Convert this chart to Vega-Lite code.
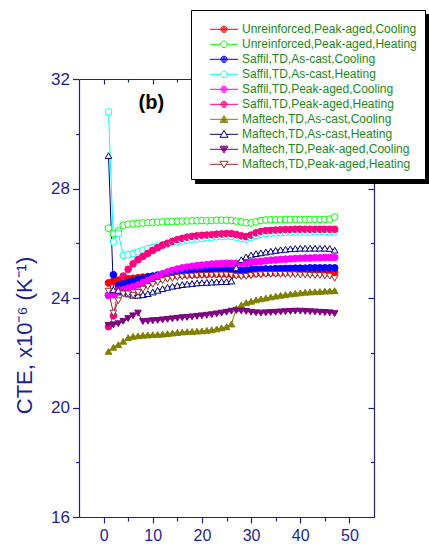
{
  "$schema": "https://vega.github.io/schema/vega-lite/v6.json",
  "width": 295,
  "height": 438,
  "autosize": {"type": "none"},
  "padding": {"left": 79, "top": 79, "right": 55, "bottom": 27},
  "background": "white",
  "config": {
    "view": {"stroke": null},
    "axis": {"grid": false, "domainColor": "#1f1f8f", "tickColor": "#1f1f8f", "labelColor": "#1f1f8f", "titleColor": "#1f1f8f", "labelFont": "Arial", "titleFont": "Arial", "titleFontWeight": "normal", "domainWidth": 1.2, "tickWidth": 1.2}
  },
  "data": {"values": [
    {"x":1,"a":24.55,"b":26.55,"c":24.10,"d":30.80,"e":24.10,"f":22.95,"g":22.05,"h":29.20,"i":23.00,"j":24.25},
    {"x":2,"a":24.62,"b":26.35,"c":24.85,"d":26.05,"e":24.12,"f":23.35,"g":22.20,"h":24.30,"i":23.02,"j":23.45},
    {"x":3,"a":24.65,"b":26.45,"c":24.45,"d":26.35,"e":24.22,"f":24.30,"g":22.30,"h":24.28,"i":23.06,"j":23.90},
    {"x":4,"a":24.67,"b":26.66,"c":24.52,"d":25.55,"e":24.30,"f":24.80,"g":22.42,"h":24.22,"i":23.15,"j":24.15},
    {"x":5,"a":24.70,"b":26.69,"c":24.57,"d":25.58,"e":24.36,"f":25.05,"g":22.55,"h":24.15,"i":23.25,"j":24.15},
    {"x":6,"a":24.72,"b":26.71,"c":24.62,"d":25.62,"e":24.42,"f":25.25,"g":22.60,"h":24.10,"i":23.35,"j":24.10},
    {"x":7,"a":24.74,"b":26.73,"c":24.67,"d":25.68,"e":24.48,"f":25.40,"g":22.62,"h":24.10,"i":23.45,"j":24.20},
    {"x":8,"a":24.76,"b":26.74,"c":24.72,"d":25.74,"e":24.56,"f":25.52,"g":22.64,"h":24.12,"i":23.14,"j":24.32},
    {"x":9,"a":24.78,"b":26.75,"c":24.76,"d":25.80,"e":24.64,"f":25.63,"g":22.65,"h":24.16,"i":23.15,"j":24.42},
    {"x":10,"a":24.79,"b":26.76,"c":24.80,"d":25.85,"e":24.72,"f":25.74,"g":22.66,"h":24.22,"i":23.17,"j":24.50},
    {"x":11,"a":24.80,"b":26.77,"c":24.84,"d":25.90,"e":24.80,"f":25.84,"g":22.67,"h":24.28,"i":23.18,"j":24.57},
    {"x":12,"a":24.81,"b":26.78,"c":24.87,"d":25.94,"e":24.88,"f":25.93,"g":22.68,"h":24.34,"i":23.20,"j":24.63},
    {"x":13,"a":24.82,"b":26.79,"c":24.90,"d":25.98,"e":24.95,"f":26.00,"g":22.70,"h":24.39,"i":23.22,"j":24.68},
    {"x":14,"a":24.83,"b":26.79,"c":24.93,"d":26.02,"e":25.01,"f":26.07,"g":22.72,"h":24.43,"i":23.24,"j":24.72},
    {"x":15,"a":24.84,"b":26.80,"c":24.96,"d":26.05,"e":25.06,"f":26.13,"g":22.74,"h":24.46,"i":23.26,"j":24.75},
    {"x":16,"a":24.85,"b":26.81,"c":24.98,"d":26.08,"e":25.10,"f":26.18,"g":22.76,"h":24.49,"i":23.28,"j":24.77},
    {"x":17,"a":24.85,"b":26.81,"c":25.00,"d":26.11,"e":25.13,"f":26.22,"g":22.77,"h":24.51,"i":23.29,"j":24.79},
    {"x":18,"a":24.86,"b":26.82,"c":25.01,"d":26.14,"e":25.16,"f":26.25,"g":22.78,"h":24.53,"i":23.31,"j":24.80},
    {"x":19,"a":24.86,"b":26.82,"c":25.02,"d":26.16,"e":25.18,"f":26.27,"g":22.79,"h":24.55,"i":23.33,"j":24.81},
    {"x":20,"a":24.87,"b":26.83,"c":25.02,"d":26.18,"e":25.20,"f":26.29,"g":22.80,"h":24.56,"i":23.35,"j":24.82},
    {"x":21,"a":24.87,"b":26.82,"c":25.03,"d":26.20,"e":25.22,"f":26.30,"g":22.82,"h":24.57,"i":23.37,"j":24.83},
    {"x":22,"a":24.88,"b":26.83,"c":25.03,"d":26.22,"e":25.24,"f":26.31,"g":22.84,"h":24.58,"i":23.39,"j":24.83},
    {"x":23,"a":24.88,"b":26.84,"c":25.04,"d":26.24,"e":25.25,"f":26.33,"g":22.87,"h":24.59,"i":23.42,"j":24.84},
    {"x":24,"a":24.88,"b":26.84,"c":25.04,"d":26.25,"e":25.26,"f":26.34,"g":22.91,"h":24.60,"i":23.45,"j":24.84},
    {"x":25,"a":24.88,"b":26.84,"c":25.04,"d":26.26,"e":25.27,"f":26.35,"g":22.95,"h":24.60,"i":23.48,"j":24.84},
    {"x":26,"a":24.87,"b":26.83,"c":25.03,"d":26.25,"e":25.27,"f":26.35,"g":23.05,"h":24.62,"i":23.52,"j":24.83},
    {"x":27,"a":24.86,"b":26.81,"c":25.02,"d":26.22,"e":25.27,"f":26.32,"g":23.62,"h":25.10,"i":23.54,"j":24.80},
    {"x":28,"a":24.86,"b":26.78,"c":25.02,"d":26.17,"e":25.27,"f":26.27,"g":23.75,"h":25.40,"i":23.53,"j":24.78},
    {"x":29,"a":24.87,"b":26.75,"c":25.03,"d":26.15,"e":25.28,"f":26.24,"g":23.83,"h":25.50,"i":23.51,"j":24.79},
    {"x":30,"a":24.89,"b":26.74,"c":25.04,"d":26.20,"e":25.30,"f":26.30,"g":23.88,"h":25.57,"i":23.48,"j":24.82},
    {"x":31,"a":24.90,"b":26.78,"c":25.05,"d":26.28,"e":25.32,"f":26.38,"g":23.93,"h":25.62,"i":23.46,"j":24.84},
    {"x":32,"a":24.91,"b":26.83,"c":25.05,"d":26.33,"e":25.34,"f":26.43,"g":23.97,"h":25.65,"i":23.45,"j":24.85},
    {"x":33,"a":24.92,"b":26.85,"c":25.06,"d":26.36,"e":25.36,"f":26.46,"g":24.00,"h":25.68,"i":23.46,"j":24.86},
    {"x":34,"a":24.92,"b":26.86,"c":25.06,"d":26.37,"e":25.38,"f":26.47,"g":24.04,"h":25.71,"i":23.47,"j":24.86},
    {"x":35,"a":24.93,"b":26.86,"c":25.07,"d":26.38,"e":25.39,"f":26.48,"g":24.07,"h":25.74,"i":23.48,"j":24.86},
    {"x":36,"a":24.93,"b":26.86,"c":25.07,"d":26.39,"e":25.41,"f":26.49,"g":24.10,"h":25.76,"i":23.49,"j":24.86},
    {"x":37,"a":24.94,"b":26.87,"c":25.08,"d":26.40,"e":25.42,"f":26.50,"g":24.12,"h":25.78,"i":23.50,"j":24.86},
    {"x":38,"a":24.94,"b":26.87,"c":25.08,"d":26.40,"e":25.43,"f":26.50,"g":24.15,"h":25.80,"i":23.51,"j":24.85},
    {"x":39,"a":24.95,"b":26.87,"c":25.09,"d":26.41,"e":25.44,"f":26.51,"g":24.17,"h":25.81,"i":23.52,"j":24.85},
    {"x":40,"a":24.95,"b":26.87,"c":25.09,"d":26.41,"e":25.45,"f":26.51,"g":24.19,"h":25.82,"i":23.52,"j":24.84},
    {"x":41,"a":24.95,"b":26.87,"c":25.09,"d":26.41,"e":25.46,"f":26.51,"g":24.21,"h":25.82,"i":23.51,"j":24.84},
    {"x":42,"a":24.96,"b":26.87,"c":25.10,"d":26.41,"e":25.46,"f":26.51,"g":24.22,"h":25.82,"i":23.50,"j":24.83},
    {"x":43,"a":24.96,"b":26.87,"c":25.10,"d":26.42,"e":25.47,"f":26.51,"g":24.23,"h":25.82,"i":23.49,"j":24.82},
    {"x":44,"a":24.96,"b":26.87,"c":25.10,"d":26.42,"e":25.47,"f":26.51,"g":24.24,"h":25.82,"i":23.48,"j":24.82},
    {"x":45,"a":24.96,"b":26.87,"c":25.10,"d":26.42,"e":25.48,"f":26.51,"g":24.25,"h":25.82,"i":23.47,"j":24.81},
    {"x":46,"a":24.96,"b":26.88,"c":25.10,"d":26.42,"e":25.48,"f":26.51,"g":24.26,"h":25.81,"i":23.46,"j":24.80},
    {"x":47,"a":24.95,"b":26.96,"c":25.10,"d":26.42,"e":25.48,"f":26.51,"g":24.27,"h":25.75,"i":23.43,"j":24.72}
  ]},
  "transform": [{"fold": ["a","b","c","d","e","f","g","h","i","j"], "as": ["s","y"]}],
  "layer": [
    {
      "mark": {"type": "line", "strokeWidth": 1},
      "encoding": {
        "x": {"field": "x", "type": "quantitative", "scale": {"domain": [-5, 55], "nice": false, "zero": false},
              "axis": {"orient": "bottom", "values": [0,10,20,30,40,50], "tickSize": 6, "labelFontSize": 16, "labelPadding": 4, "title": null}},
        "y": {"field": "y", "type": "quantitative", "scale": {"domain": [16, 32], "nice": false, "zero": false},
              "axis": {"orient": "left", "values": [16,20,24,28,32], "tickSize": 6.5, "labelFontSize": 17, "labelPadding": 3, "title": "CTE, x10⁻⁶ (K⁻¹)", "titleFontSize": 22, "titleAngle": -90, "titleX": -55, "titleY": 256, "titleBaseline": "middle", "titleAlign": "center"}},
        "stroke": {"field": "s", "type": "nominal", "legend": null,
                   "scale": {"domain": ["a","b","c","d","e","f","g","h","i","j"], "range": ["#ff0000","#00ff00","#0000ff","#00ffff","#ff00ff","#ff0080","#808000","#000080","#800080","#9b2d2d"]}}
      }
    },
    {
      "mark": {"type": "point", "filled": true, "size": 45, "strokeWidth": 1, "opacity": 1},
      "encoding": {
        "x": {"field": "x", "type": "quantitative", "axis": {"orient": "top", "values": [0,10,20,30,40,50], "tickSize": -5, "labels": false, "title": null}},
        "y": {"field": "y", "type": "quantitative", "axis": {"orient": "right", "values": [16,20,24,28,32], "tickSize": -6, "labels": false, "title": null}},
        "stroke": {"field": "s", "type": "nominal", "legend": null,
                   "scale": {"domain": ["a","b","c","d","e","f","g","h","i","j"], "range": ["#ff0000","#00ff00","#0000ff","#00ffff","#ff00ff","#ff0080","#808000","#000080","#800080","#9b2d2d"]}},
        "fill": {"field": "s", "type": "nominal", "legend": null,
                 "scale": {"domain": ["a","b","c","d","e","f","g","h","i","j"], "range": ["#ff0000","#ffffff","#0000ff","#ffffff","#ff00ff","#ff0080","#808000","#ffffff","#800080","#ffffff"]}},
        "shape": {"field": "s", "type": "nominal", "legend": null,
                  "scale": {"domain": ["a","b","c","d","e","f","g","h","i","j"], "range": ["circle","circle","circle","circle","circle","circle","triangle-up","triangle-up","triangle-down","triangle-down"]}}
      }
    },
    {
      "mark": {"type": "point", "filled": true, "size": 45, "strokeWidth": 1, "opacity": 0},
      "encoding": {
        "x": {"field": "x", "type": "quantitative", "axis": {"orient": "bottom", "values": [5,15,25,35,45], "tickSize": 4, "labels": false, "domain": false, "title": null}},
        "y": {"field": "y", "type": "quantitative", "axis": {"orient": "left", "values": [18,22,26,30], "tickSize": 3.5, "labels": false, "domain": false, "title": null}},
        "stroke": {"field": "s", "type": "nominal",
                   "scale": {"domain": ["a","b","c","d","e","f","g","h","i","j"], "range": ["#ff0000","#00ff00","#0000ff","#00ffff","#ff00ff","#ff0080","#808000","#000080","#800080","#9b2d2d"]},
                   "legend": {"orient": "none", "legendX": 112, "legendY": -69, "zindex": 2, "title": " ", "titleFontSize": 3, "titlePadding": 2.3, "direction": "vertical", "padding": 8, "fillColor": "white", "strokeColor": "black", "symbolSize": 100, "symbolOffset": 19, "symbolStrokeWidth": 1, "labelOffset": 12, "labelFontSize": 12, "labelFont": "Arial", "labelColor": "#1a8a1a", "rowPadding": 3, "labelLimit": 400,
                              "labelExpr": "['Unreinforced,Peak-aged,Cooling','Unreinforced,Peak-aged,Heating','Saffil,TD,As-cast,Cooling','Saffil,TD,As-cast,Heating','Saffil,TD,Peak-aged,Cooling','Saffil,TD,Peak-aged,Heating','Maftech,TD,As-cast,Cooling','Maftech,TD,As-cast,Heating','Maftech,TD,Peak-aged,Cooling','Maftech,TD,Peak-aged,Heating'][indexof(['a','b','c','d','e','f','g','h','i','j'],datum.label)]"}},
        "fill": {"field": "s", "type": "nominal",
                 "scale": {"domain": ["a","b","c","d","e","f","g","h","i","j"], "range": ["#ff0000","#ffffff","#0000ff","#ffffff","#ff00ff","#ff0080","#808000","#ffffff","#800080","#ffffff"]},
                 "legend": {"orient": "none", "legendX": 112, "legendY": -69, "zindex": 2, "title": " ", "titleFontSize": 3, "titlePadding": 2.3, "direction": "vertical", "padding": 8, "fillColor": "white", "strokeColor": "black", "symbolSize": 100, "symbolOffset": 19, "symbolStrokeWidth": 1, "labelOffset": 12, "labelFontSize": 12, "labelFont": "Arial", "labelColor": "#1a8a1a", "rowPadding": 3, "labelLimit": 400,
                            "labelExpr": "['Unreinforced,Peak-aged,Cooling','Unreinforced,Peak-aged,Heating','Saffil,TD,As-cast,Cooling','Saffil,TD,As-cast,Heating','Saffil,TD,Peak-aged,Cooling','Saffil,TD,Peak-aged,Heating','Maftech,TD,As-cast,Cooling','Maftech,TD,As-cast,Heating','Maftech,TD,Peak-aged,Cooling','Maftech,TD,Peak-aged,Heating'][indexof(['a','b','c','d','e','f','g','h','i','j'],datum.label)]"}},
        "shape": {"field": "s", "type": "nominal",
                  "scale": {"domain": ["a","b","c","d","e","f","g","h","i","j"], "range": [
                    "M-2.8,0L2.8,0M-0.62,0A0.62,0.62,0,1,0,0.62,0A0.62,0.62,0,1,0,-0.62,0M-0.42,0A0.42,0.42,0,1,0,0.42,0A0.42,0.42,0,1,0,-0.42,0M-0.22,0A0.22,0.22,0,1,0,0.22,0A0.22,0.22,0,1,0,-0.22,0M-0.06,0A0.06,0.06,0,1,0,0.06,0A0.06,0.06,0,1,0,-0.06,0",
                    "M-2.8,0L-0.66,0M0.66,0L2.8,0M-0.66,0A0.66,0.66,0,1,0,0.66,0A0.66,0.66,0,1,0,-0.66,0",
                    "M-2.8,0L2.8,0M-0.62,0A0.62,0.62,0,1,0,0.62,0A0.62,0.62,0,1,0,-0.62,0M-0.42,0A0.42,0.42,0,1,0,0.42,0A0.42,0.42,0,1,0,-0.42,0M-0.22,0A0.22,0.22,0,1,0,0.22,0A0.22,0.22,0,1,0,-0.22,0M-0.06,0A0.06,0.06,0,1,0,0.06,0A0.06,0.06,0,1,0,-0.06,0",
                    "M-2.8,0L-0.66,0M0.66,0L2.8,0M-0.66,0A0.66,0.66,0,1,0,0.66,0A0.66,0.66,0,1,0,-0.66,0",
                    "M-2.8,0L2.8,0M-0.62,0A0.62,0.62,0,1,0,0.62,0A0.62,0.62,0,1,0,-0.62,0M-0.42,0A0.42,0.42,0,1,0,0.42,0A0.42,0.42,0,1,0,-0.42,0M-0.22,0A0.22,0.22,0,1,0,0.22,0A0.22,0.22,0,1,0,-0.22,0M-0.06,0A0.06,0.06,0,1,0,0.06,0A0.06,0.06,0,1,0,-0.06,0",
                    "M-2.8,0L2.8,0M-0.62,0A0.62,0.62,0,1,0,0.62,0A0.62,0.62,0,1,0,-0.62,0M-0.42,0A0.42,0.42,0,1,0,0.42,0A0.42,0.42,0,1,0,-0.42,0M-0.22,0A0.22,0.22,0,1,0,0.22,0A0.22,0.22,0,1,0,-0.22,0",
                    "M-2.8,0L2.8,0M0,-0.75L0.8,0.6L-0.8,0.6ZM0,-0.39L0.48,0.42L-0.48,0.42ZM0,-0.075L0.2,0.2625L-0.2,0.2625ZM-0.04,0.15L0.04,0.15",
                    "M-2.8,0L-0.44,0M0.44,0L2.8,0M0,-0.75L0.8,0.6L-0.8,0.6Z",
                    "M-2.8,0L2.8,0M0,0.75L0.8,-0.6L-0.8,-0.6ZM0,0.39L0.48,-0.42L-0.48,-0.42ZM0,0.075L0.2,-0.2625L-0.2,-0.2625ZM-0.04,-0.15L0.04,-0.15",
                    "M-2.8,0L-0.44,0M0.44,0L2.8,0M0,0.75L0.8,-0.6L-0.8,-0.6Z"]},
                  "legend": {"orient": "none", "legendX": 112, "legendY": -69, "zindex": 2, "title": " ", "titleFontSize": 3, "titlePadding": 2.3, "direction": "vertical", "padding": 8, "fillColor": "white", "strokeColor": "black", "symbolSize": 100, "symbolOffset": 19, "symbolStrokeWidth": 1, "labelOffset": 12, "labelFontSize": 12, "labelFont": "Arial", "labelColor": "#1a8a1a", "rowPadding": 3, "labelLimit": 400,
                             "labelExpr": "['Unreinforced,Peak-aged,Cooling','Unreinforced,Peak-aged,Heating','Saffil,TD,As-cast,Cooling','Saffil,TD,As-cast,Heating','Saffil,TD,Peak-aged,Cooling','Saffil,TD,Peak-aged,Heating','Maftech,TD,As-cast,Cooling','Maftech,TD,As-cast,Heating','Maftech,TD,Peak-aged,Cooling','Maftech,TD,Peak-aged,Heating'][indexof(['a','b','c','d','e','f','g','h','i','j'],datum.label)]"}}
      }
    },
    {
      "data": {"values": [{"label": "(b)"}]},
      "mark": {"type": "text", "fontSize": 20, "fontWeight": "bold", "font": "Arial", "color": "black", "align": "center", "baseline": "middle"},
      "encoding": {
        "text": {"field": "label"},
        "x": {"datum": 9.7, "type": "quantitative", "axis": {"orient": "top", "values": [5,15,25,35,45], "tickSize": -3, "labels": false, "domain": false, "title": null}},
        "y": {"datum": 31.14, "type": "quantitative", "axis": {"orient": "right", "values": [18,22,26,30], "tickSize": -3.5, "labels": false, "domain": false, "title": null}}
      }
    },
    {
      "mark": {"type": "point", "filled": true, "size": 45, "opacity": 0},
      "encoding": {
        "x": {"field": "x", "type": "quantitative", "axis": null},
        "y": {"field": "y", "type": "quantitative", "axis": null},
        "stroke": {"field": "s", "type": "nominal",
                   "scale": {"domain": ["a","b","c","d","e","f","g","h","i","j"], "range": ["black","black","black","black","black","black","black","black","black","black"]},
                   "legend": {"orient": "none", "legendX": 116, "legendY": -65, "zindex": 1, "title": " ", "titleFontSize": 3, "titlePadding": 2.3, "direction": "vertical", "padding": 8, "fillColor": "black", "strokeColor": "black", "symbolSize": 100, "symbolOffset": 19, "symbolStrokeWidth": 1, "labelOffset": 194, "labelFontSize": 12, "labelFont": "Arial", "labelColor": "black", "rowPadding": 3, "labelLimit": 400,
                              "labelExpr": "'\u00a0'"}},
        "shape": {"field": "s", "type": "nominal",
                  "scale": {"domain": ["a","b","c","d","e","f","g","h","i","j"], "range": [
                    "M-2.8,0L2.8,0M-0.62,0A0.62,0.62,0,1,0,0.62,0A0.62,0.62,0,1,0,-0.62,0",
                    "M-2.8,0L2.8,0M-0.62,0A0.62,0.62,0,1,0,0.62,0A0.62,0.62,0,1,0,-0.62,0",
                    "M-2.8,0L2.8,0M-0.62,0A0.62,0.62,0,1,0,0.62,0A0.62,0.62,0,1,0,-0.62,0",
                    "M-2.8,0L2.8,0M-0.62,0A0.62,0.62,0,1,0,0.62,0A0.62,0.62,0,1,0,-0.62,0",
                    "M-2.8,0L2.8,0M-0.62,0A0.62,0.62,0,1,0,0.62,0A0.62,0.62,0,1,0,-0.62,0",
                    "M-2.8,0L2.8,0M-0.62,0A0.62,0.62,0,1,0,0.62,0A0.62,0.62,0,1,0,-0.62,0",
                    "M-2.8,0L2.8,0M0,-0.75L0.8,0.6L-0.8,0.6Z",
                    "M-2.8,0L2.8,0M0,-0.75L0.8,0.6L-0.8,0.6Z",
                    "M-2.8,0L2.8,0M0,0.75L0.8,-0.6L-0.8,-0.6Z",
                    "M-2.8,0L2.8,0M0,0.75L0.8,-0.6L-0.8,-0.6Z"]},
                  "legend": {"orient": "none", "legendX": 116, "legendY": -65, "zindex": 1, "title": " ", "titleFontSize": 3, "titlePadding": 2.3, "direction": "vertical", "padding": 8, "fillColor": "black", "strokeColor": "black", "symbolSize": 100, "symbolOffset": 19, "symbolStrokeWidth": 1, "labelOffset": 194, "labelFontSize": 12, "labelFont": "Arial", "labelColor": "black", "rowPadding": 3, "labelLimit": 400,
                             "labelExpr": "'\u00a0'"}}
      }
    }
  ],
  "resolve": {
    "scale": {"stroke": "independent", "fill": "independent", "shape": "independent"},
    "axis": {"x": "independent", "y": "independent"}
  }
}
